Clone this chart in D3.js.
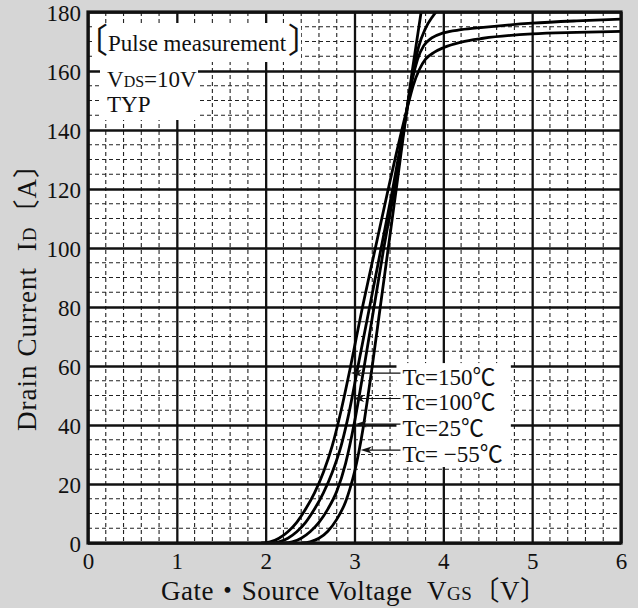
<!DOCTYPE html>
<html>
<head>
<meta charset="utf-8">
<script src="https://cdn.jsdelivr.net/npm/d3@7"></script>
<style>
  body { margin: 0; background: #d6d6d6; }
  svg text { font-family: "Liberation Serif", "Noto Sans CJK JP", "DejaVu Serif", serif; fill: #111; }
</style>
</head>
<body>
<div id="chart"></div>
<script>
// Drain current vs gate-source voltage
var vgsTicks = [0, 1, 2, 3, 4, 5, 6];
var idTicks = [0, 20, 40, 60, 80, 100, 120, 140, 160, 180];

// [VGS (V), ID (A)]
var tc150 = [[1.95, 0], [2.05, 0.4], [2.15, 1.6], [2.25, 3.8], [2.35, 7], [2.45, 11.5], [2.55, 17], [2.65, 24],
  [2.75, 33], [2.85, 45], [2.95, 59], [3.09, 80], [3.235, 100], [3.38, 120], [3.59, 147], [3.66, 155],
  [3.73, 160.5], [3.80, 164], [3.90, 166.4], [4.0, 167.9], [4.2, 169.8], [4.45, 171.1], [5.0, 172.6],
  [5.5, 173.1], [6.0, 173.4]];
var tc100 = [[2.05, 0], [2.15, 0.4], [2.25, 1.6], [2.35, 3.8], [2.45, 7], [2.55, 11.5], [2.65, 17], [2.75, 24],
  [2.85, 33], [2.93, 43], [3.04, 60], [3.17, 80], [3.30, 100], [3.43, 120], [3.59, 147], [3.65, 157],
  [3.71, 164], [3.78, 168.6], [3.87, 171.2], [4.0, 172.9], [4.2, 174], [4.45, 174.8], [5.0, 176.2],
  [5.5, 177], [6.0, 177.6]];
var tc25 = [[2.2, 0], [2.3, 0.4], [2.4, 1.6], [2.5, 3.8], [2.6, 7], [2.7, 11.5], [2.8, 17.5], [2.9, 27],
  [3.0, 41], [3.11, 60], [3.22, 80], [3.33, 100], [3.45, 120], [3.59, 147], [3.65, 158], [3.72, 168],
  [3.80, 174.5], [3.88, 178.5], [3.96, 181.5]];
var tcm55 = [[2.4, 0], [2.5, 0.4], [2.6, 1.6], [2.7, 4], [2.8, 8], [2.9, 14], [2.95, 18.5], [3.0, 24],
  [3.05, 31], [3.10, 39.5], [3.15, 49.5], [3.20, 60], [3.29, 80], [3.38, 100], [3.47, 120], [3.59, 147],
  [3.65, 160], [3.76, 182]];

var seriesList = [tc150, tc100, tc25, tcm55];
var legendLabels = ["Tc=150℃", "Tc=100℃", "Tc=25℃", "Tc= −55℃"];
var arrowCurrent = [57.6, 49, 40.3, 31.5];

var svgWidth = 638;
var svgHeight = 608;
var margin = {top: 12, right: 17, bottom: 65, left: 88};
var width = svgWidth - margin.left - margin.right;
var height = svgHeight - margin.top - margin.bottom;

var svg = d3.select("#chart")
  .append("svg")
  .attr("width", svgWidth)
  .attr("height", svgHeight);

svg.append("rect")
  .attr("width", svgWidth)
  .attr("height", svgHeight)
  .attr("fill", "#d6d6d6");

var chartGroup = svg.append("g")
  .attr("transform", `translate(${margin.left}, ${margin.top})`);

var xScale = d3.scaleLinear().domain([0, 6]).range([0, width]);
var yScale = d3.scaleLinear().domain([0, 180]).range([height, 0]);

chartGroup.append("rect")
  .attr("width", width)
  .attr("height", height)
  .attr("fill", "#fff");

// minor grid (dashed): 0.2 V and 5 A
var xMinor = d3.range(0, 6.001, 0.2).filter(v => Math.abs(v - Math.round(v)) > 1e-6);
var yMinor = d3.range(0, 180.001, 5).filter(v => v % 20 !== 0);

chartGroup.append("g").selectAll("line")
  .data(xMinor)
  .enter()
  .append("line")
  .attr("x1", d => xScale(d)).attr("x2", d => xScale(d))
  .attr("y1", 0).attr("y2", height)
  .attr("stroke", "#222").attr("stroke-width", 1.1)
  .attr("stroke-dasharray", "4,3");

chartGroup.append("g").selectAll("line")
  .data(yMinor)
  .enter()
  .append("line")
  .attr("y1", d => yScale(d)).attr("y2", d => yScale(d))
  .attr("x1", 0).attr("x2", width)
  .attr("stroke", "#222").attr("stroke-width", 1.1)
  .attr("stroke-dasharray", "4,3");

// major grid through the axes
var bottomAxis = d3.axisBottom(xScale).tickValues(vgsTicks).tickSize(-height).tickPadding(9).tickFormat(d3.format("d"));
var leftAxis = d3.axisLeft(yScale).tickValues(idTicks).tickSize(-width).tickPadding(7).tickFormat(d3.format("d"));

var xAxisG = chartGroup.append("g")
  .attr("transform", `translate(0, ${height})`)
  .call(bottomAxis);
var yAxisG = chartGroup.append("g")
  .call(leftAxis);

[xAxisG, yAxisG].forEach(function(g) {
  g.select(".domain").remove();
  g.selectAll(".tick line").attr("stroke", "#111").attr("stroke-width", 2.3);
  g.selectAll(".tick text")
    .attr("font-size", "23px")
    .attr("fill", "#111")
    .style("font-family", "'Liberation Serif', 'DejaVu Serif', serif");
});
xAxisG.selectAll(".tick text").attr("dy", "0.72em");
yAxisG.selectAll(".tick text").attr("dy", "0.35em");

// curves
chartGroup.append("clipPath").attr("id", "plotClip")
  .append("rect").attr("width", width).attr("height", height);

var line = d3.line()
  .x(d => xScale(d[0]))
  .y(d => yScale(d[1]))
  .curve(d3.curveMonotoneX);

chartGroup.append("g")
  .attr("clip-path", "url(#plotClip)")
  .selectAll("path")
  .data(seriesList)
  .enter()
  .append("path")
  .attr("d", line)
  .attr("fill", "none")
  .attr("stroke", "#000")
  .attr("stroke-width", 2.8)
  .attr("stroke-linejoin", "round");

// top-left notes
var noteGroup = chartGroup.append("g");
noteGroup.append("rect").attr("fill", "#fff")
  .attr("x", 5).attr("y", 11).attr("width", 208).attr("height", 39);
noteGroup.append("rect").attr("fill", "#fff")
  .attr("x", 12).attr("y", 50).attr("width", 98).attr("height", 58);

var pulseText = noteGroup.append("text")
  .attr("x", 20).attr("y", 39)
  .attr("font-size", "23px")
  .text("Pulse measurement");
var pulseEnd = pulseText.node().getBBox();
noteGroup.append("text")
  .attr("x", 20).attr("y", 41)
  .attr("text-anchor", "end")
  .attr("font-size", "34px")
  .style("font-family", "'Noto Sans CJK JP', sans-serif")
  .text("〔");
noteGroup.append("text")
  .attr("x", pulseEnd.x + pulseEnd.width + 1).attr("y", 41)
  .attr("font-size", "34px")
  .style("font-family", "'Noto Sans CJK JP', sans-serif")
  .text("〕");

var vdsText = noteGroup.append("text")
  .attr("x", 19).attr("y", 75)
  .attr("font-size", "23px");
vdsText.append("tspan").text("V");
vdsText.append("tspan").text("DS").attr("font-size", "16px");
vdsText.append("tspan").text("=10V");
noteGroup.append("text")
  .attr("x", 19).attr("y", 100)
  .attr("font-size", "23px")
  .text("TYP");

// legend with leader arrows
function valueAt(series, current) {
  for (var i = 1; i < series.length; i++) {
    if (series[i][1] >= current) {
      var a = series[i - 1], b = series[i];
      return a[0] + (b[0] - a[0]) * (current - a[1]) / (b[1] - a[1]);
    }
  }
  return series[series.length - 1][0];
}

var legendX = xScale(3.54);
var legendBox = chartGroup.append("rect").attr("fill", "#fff");
var legendGroup = chartGroup.append("g");

legendLabels.forEach(function(label, i) {
  var yy = yScale(arrowCurrent[i]);
  var tipX = xScale(valueAt(seriesList[i], arrowCurrent[i])) + 1.5;
  legendGroup.append("line")
    .attr("x1", tipX + 4).attr("x2", legendX - 2)
    .attr("y1", yy).attr("y2", yy)
    .attr("stroke", "#111").attr("stroke-width", 1.1);
  legendGroup.append("path")
    .attr("d", `M${tipX},${yy} L${tipX + 11},${yy - 3.5} L${tipX + 8},${yy} L${tipX + 11},${yy + 3.5} Z`)
    .attr("fill", "#111");
  legendGroup.append("text")
    .attr("x", legendX)
    .attr("y", yy + 12)
    .attr("font-size", "23px")
    .text(label);
});

var lb = legendGroup.selectAll("text").nodes().map(n => n.getBBox());
var lbRight = d3.max(lb, b => b.x + b.width);
legendBox
  .attr("x", legendX - 6)
  .attr("y", lb[0].y - 2)
  .attr("width", lbRight - legendX + 14)
  .attr("height", lb[3].y + lb[3].height - lb[0].y + 2);

// frame
chartGroup.append("rect")
  .attr("width", width)
  .attr("height", height)
  .attr("fill", "none")
  .attr("stroke", "#111")
  .attr("stroke-width", 3.2);

// axis titles
var xTitle = svg.append("text")
  .attr("x", 354)
  .attr("y", 600)
  .attr("text-anchor", "middle")
  .attr("font-size", "27px")
  .attr("textLength", 386)
  .attr("lengthAdjust", "spacing");
xTitle.append("tspan").text("Gate・Source Voltage\u00a0\u00a0V");
xTitle.append("tspan").text("GS").attr("font-size", "19px");
xTitle.append("tspan").text("〔V〕");

var yTitle = svg.append("text")
  .attr("transform", `translate(36, 291) rotate(-90)`)
  .attr("text-anchor", "middle")
  .attr("font-size", "27px")
  .attr("textLength", 280)
  .attr("lengthAdjust", "spacing");
yTitle.append("tspan").text("Drain Current\u00a0\u00a0I");
yTitle.append("tspan").text("D").attr("font-size", "19px");
yTitle.append("tspan").text("〔A〕");
</script>
</body>
</html>
